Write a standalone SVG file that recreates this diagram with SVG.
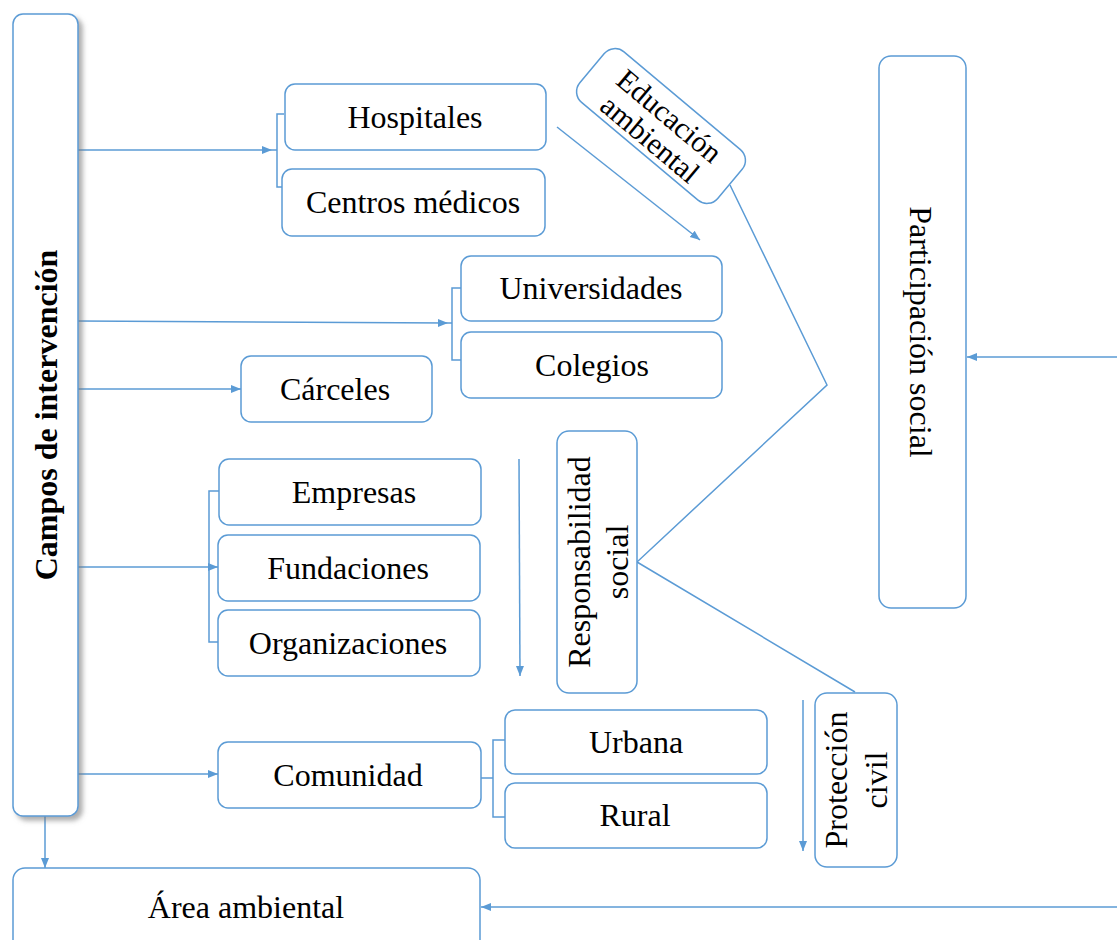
<svg xmlns="http://www.w3.org/2000/svg" width="1117" height="940" viewBox="0 0 1117 940">
<defs>
<style>
.box{fill:#fff;stroke:#5B9BD5;stroke-width:1.5}
.ln{fill:none;stroke:#5B9BD5;stroke-width:1.5}
.t{font-family:"Liberation Serif","Times New Roman",serif;font-size:32px;fill:#000;text-anchor:middle}
.b{font-weight:bold}
</style>
<marker id="ah" viewBox="0 0 10 10" refX="10" refY="5" markerWidth="10" markerHeight="10" markerUnits="userSpaceOnUse" orient="auto">
<path d="M0,1 L10,5 L0,9 Z" fill="#5B9BD5"/>
</marker>
<filter id="sh" x="-20%" y="-5%" width="150%" height="115%">
<feDropShadow dx="4" dy="4" stdDeviation="2.5" flood-color="#777" flood-opacity="0.6"/>
</filter>
</defs>
<rect width="1117" height="940" fill="#fff"/>

<g id="connectors">
<line class="ln" x1="78" y1="150" x2="272" y2="150" marker-end="url(#ah)"/>
<path class="ln" d="M284,114 H277 V187 H286 M272,150 H277"/>
<line class="ln" x1="78" y1="321" x2="448" y2="323" marker-end="url(#ah)"/>
<path class="ln" d="M461,288 H452 V360 H461 M448,323 H452"/>
<line class="ln" x1="78" y1="389" x2="241" y2="389" marker-end="url(#ah)"/>
<line class="ln" x1="78" y1="567" x2="218" y2="567" marker-end="url(#ah)"/>
<path class="ln" d="M219,491 H209 V642 H219"/>
<line class="ln" x1="78" y1="774" x2="218" y2="774" marker-end="url(#ah)"/>
<path class="ln" d="M505,740 H493 V817 H505 M481,778 H493"/>
<line class="ln" x1="45" y1="816" x2="45" y2="868" marker-end="url(#ah)"/>
<line class="ln" x1="1117" y1="907" x2="481" y2="907" marker-end="url(#ah)"/>
<line class="ln" x1="1117" y1="357" x2="967" y2="357" marker-end="url(#ah)"/>
<line class="ln" x1="557" y1="127" x2="700" y2="240" marker-end="url(#ah)"/>
<polyline class="ln" points="730,185 827,385 637,562 855,692"/>
<line class="ln" x1="519" y1="459" x2="520" y2="676" marker-end="url(#ah)"/>
<line class="ln" x1="803" y1="700" x2="803" y2="851" marker-end="url(#ah)"/>
</g>

<g id="campos">
<rect class="box" x="13" y="14" width="65" height="802" rx="10" filter="url(#sh)"/>
<text class="t b" transform="translate(57,415) rotate(-90)">Campos de intervención</text>
</g>

<g id="hospitales">
<rect class="box" x="285" y="84" width="261" height="66" rx="10"/>
<text class="t" x="415" y="128">Hospitales</text>
</g>
<g id="centros">
<rect class="box" x="282" y="169" width="263" height="67" rx="10"/>
<text class="t" x="413" y="213">Centros médicos</text>
</g>
<g id="universidades">
<rect class="box" x="461" y="256" width="261" height="65" rx="10"/>
<text class="t" x="591" y="299">Universidades</text>
</g>
<g id="colegios">
<rect class="box" x="461" y="332" width="261" height="66" rx="10"/>
<text class="t" x="592" y="376">Colegios</text>
</g>
<g id="carceles">
<rect class="box" x="241" y="356" width="191" height="66" rx="10"/>
<text class="t" x="335" y="400">Cárceles</text>
</g>
<g id="empresas">
<rect class="box" x="219" y="459" width="262" height="66" rx="10"/>
<text class="t" x="354" y="503">Empresas</text>
</g>
<g id="fundaciones">
<rect class="box" x="218" y="535" width="262" height="66" rx="10"/>
<text class="t" x="348" y="579">Fundaciones</text>
</g>
<g id="organizaciones">
<rect class="box" x="218" y="610" width="262" height="66" rx="10"/>
<text class="t" x="348" y="654">Organizaciones</text>
</g>
<g id="comunidad">
<rect class="box" x="218" y="742" width="263" height="66" rx="10"/>
<text class="t" x="348" y="786">Comunidad</text>
</g>
<g id="urbana">
<rect class="box" x="505" y="710" width="262" height="64" rx="10"/>
<text class="t" x="636" y="753">Urbana</text>
</g>
<g id="rural">
<rect class="box" x="505" y="783" width="262" height="65" rx="10"/>
<text class="t" x="635" y="826">Rural</text>
</g>
<g id="area-ambiental">
<rect class="box" x="13" y="868" width="467" height="100" rx="12"/>
<text class="t" x="246" y="918">Área ambiental</text>
</g>
<g id="educacion">
<g transform="translate(661,126) rotate(40)">
<rect class="box" x="-90" y="-33" width="180" height="66" rx="14"/>
<text class="t" x="0" y="-3" style="font-size:30px">Educación</text>
<text class="t" x="0" y="27" style="font-size:30px">ambiental</text>
</g>
</g>
<g id="participacion">
<rect class="box" x="879" y="56" width="87" height="552" rx="12"/>
<text class="t" transform="translate(910,332) rotate(90)">Participación social</text>
</g>
<g id="responsabilidad">
<rect class="box" x="557" y="431" width="80" height="262" rx="12"/>
<text class="t" transform="translate(590,562) rotate(-90)">Responsabilidad</text>
<text class="t" transform="translate(628,562) rotate(-90)">social</text>
</g>
<g id="proteccion">
<rect class="box" x="815" y="693" width="82" height="174" rx="12"/>
<text class="t" transform="translate(847,780) rotate(-90)">Protección</text>
<text class="t" transform="translate(887,780) rotate(-90)">civil</text>
</g>
</svg>
